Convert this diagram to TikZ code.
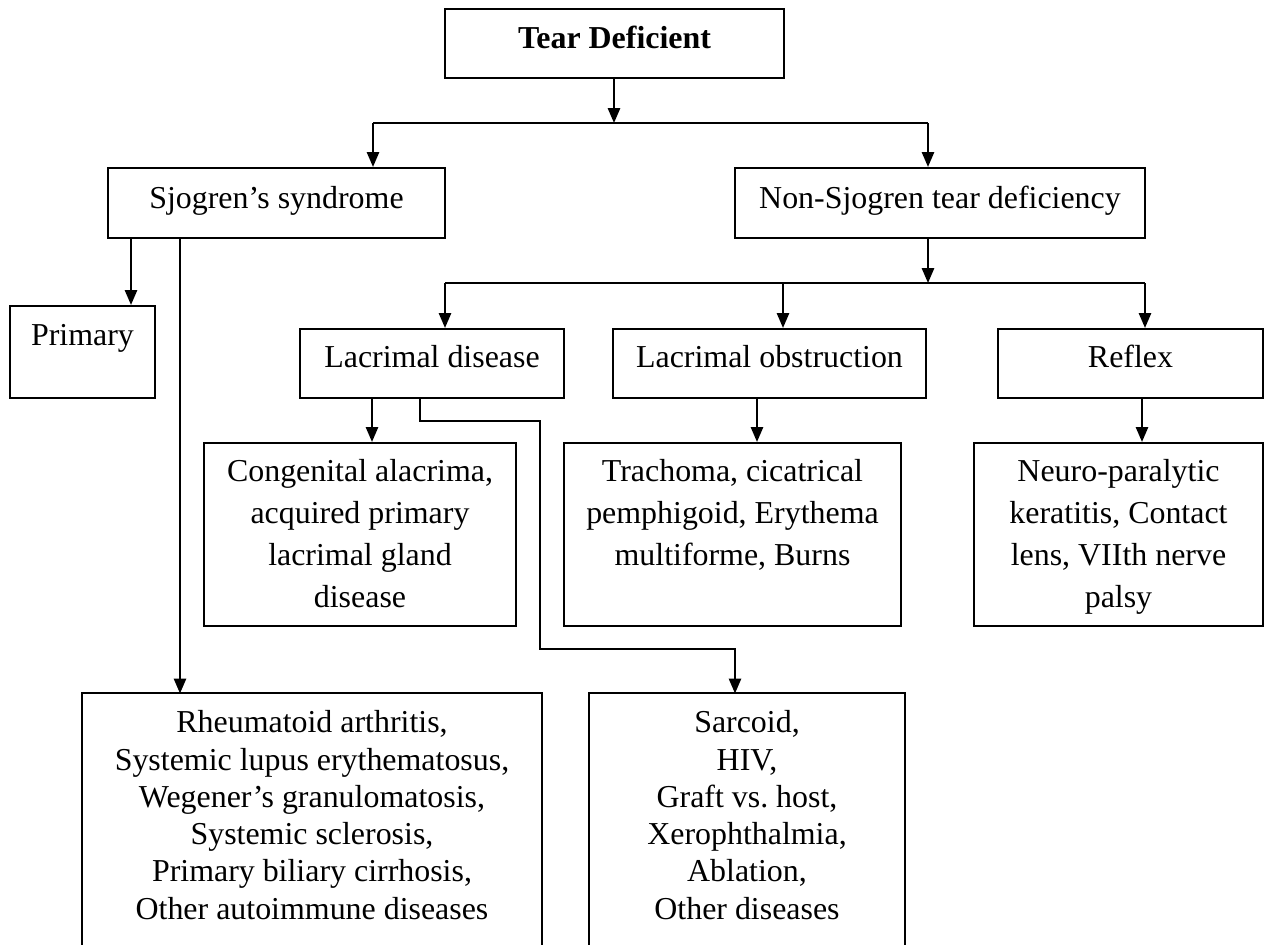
\documentclass[tikz,border=0pt]{standalone}
\usepackage{fontspec}
\setmainfont{Liberation Serif}
\usetikzlibrary{arrows.meta,fit}
\frenchspacing
\begin{document}
\begin{tikzpicture}[x=0.376pt,y=-0.376pt,
  box/.style={draw, line width=0.8pt, inner sep=0pt},
  openbox/.style={draw=none, inner sep=0pt},
  txt/.style={anchor=base, align=center, inner sep=0pt, font=\fontsize{12pt}{15.8pt}\selectfont},
  txtb/.style={anchor=base, align=center, inner sep=0pt, font=\fontsize{12pt}{14pt}\selectfont},
  arr/.style={line width=0.75pt, -{Triangle[length=5.6pt,width=4.6pt]}},
  ln/.style={line width=0.75pt}]
\useasboundingbox (0,0) rectangle (1264,945);
% boxes
\node[box, fit={(445,9) (784,78)}] (td) {};
\node[box, fit={(108,168) (445,238)}] (sj) {};
\node[box, fit={(735,168) (1145,238)}] (nsj) {};
\node[box, fit={(10,306) (155,398)}] (prim) {};
\node[box, fit={(300,329) (564,398)}] (ld) {};
\node[box, fit={(613,329) (926,398)}] (lo) {};
\node[box, fit={(998,329) (1263,398)}] (rf) {};
\node[box, fit={(204,443) (516,626)}] (cong) {};
\node[box, fit={(564,443) (901,626)}] (trach) {};
\node[box, fit={(974,443) (1263,626)}] (neuro) {};
\node[openbox, fit={(83,694) (541,950)}] (ra) {};
\node[openbox, fit={(590,694) (904,950)}] (sar) {};
\draw[ln] (ra.south west) -- (ra.north west) -- (ra.north east) -- (ra.south east);
\draw[ln] (sar.south west) -- (sar.north west) -- (sar.north east) -- (sar.south east);
% texts (anchor=base is the baseline of the last line)
\node[txt] (tdt) at ([yshift=-15.2pt]td.north) {\textbf{Tear Deficient}};
\node[txt] (sjt) at ([yshift=-15.6pt]sj.north) {Sjogren’s syndrome};
\node[txt] (nsjt) at ([yshift=-15.6pt]nsj.north) {Non-Sjogren tear deficiency};
\node[txt] (primt) at ([yshift=-15.4pt]prim.north) {Primary};
\node[txt] (ldt) at ([yshift=-15pt]ld.north) {Lacrimal disease};
\node[txt] (lot) at ([yshift=-15pt]lo.north) {Lacrimal obstruction};
\node[txt] (rft) at ([yshift=-15pt]rf.north) {Reflex};
\node[txt] (congt) at ([yshift=-62.4pt]cong.north) {Congenital alacrima,\\acquired primary\\lacrimal gland\\disease};
\node[txt] (tracht) at ([yshift=-46.6pt]trach.north) {Trachoma, cicatrical\\pemphigoid, Erythema\\multiforme, Burns};
\node[txt] (neurot) at ([yshift=-62.4pt]neuro.north) {Neuro-paralytic\\keratitis, Contact\\lens, VIIth nerve\\palsy};
\node[txtb] (rat) at ([yshift=-84.8pt]ra.north) {Rheumatoid arthritis,\\Systemic lupus erythematosus,\\Wegener’s granulomatosis,\\Systemic sclerosis,\\Primary biliary cirrhosis,\\Other autoimmune diseases};
\node[txtb] (sart) at ([yshift=-84.8pt]sar.north) {Sarcoid,\\HIV,\\Graft vs. host,\\Xerophthalmia,\\Ablation,\\Other diseases};
% junction coordinates
\coordinate (j0) at (614,123);
\coordinate (jL) at (373,123);
\coordinate (jR) at (928,123);
\coordinate (m0) at (928,283);
\coordinate (mL) at (445,283);
\coordinate (mM) at (783,283);
\coordinate (mR) at (1145,283);
\coordinate (s1) at (131,0);
\coordinate (s2) at (180,0);
\coordinate (l1) at (372,0);
\coordinate (k1) at (420,0);
\coordinate (r1) at (540,421);
\coordinate (r2) at (540,649);
\coordinate (k3) at (735,0);
\coordinate (o1) at (757,0);
\coordinate (f1) at (1142,0);
% connectors
\draw[arr] (td.south -| j0) -- (j0);
\draw[ln] (jL) -- (jR);
\draw[arr] (jL) -- (jL |- sj.north);
\draw[arr] (jR) -- (jR |- nsj.north);
\draw[arr] (nsj.south -| m0) -- (m0);
\draw[ln] (mL) -- (mR);
\draw[arr] (mL) -- (mL |- ld.north);
\draw[arr] (mM) -- (mM |- lo.north);
\draw[arr] (mR) -- (mR |- rf.north);
\draw[arr] (sj.south -| s1) -- (prim.north -| s1);
\draw[arr] (sj.south -| s2) -- (ra.north -| s2);
\draw[arr] (ld.south -| l1) -- (cong.north -| l1);
\draw[arr] (ld.south -| k1) |- (r1) -- (r2) -| (sar.north -| k3);
\draw[arr] (lo.south -| o1) -- (trach.north -| o1);
\draw[arr] (rf.south -| f1) -- (neuro.north -| f1);
\end{tikzpicture}
\end{document}
